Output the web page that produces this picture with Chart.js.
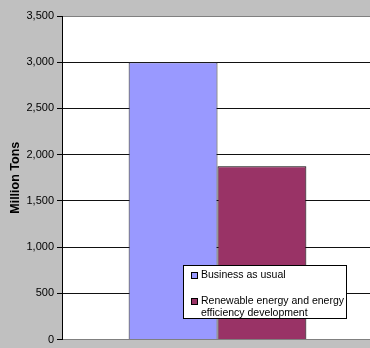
<!DOCTYPE html>
<html lang="en">
<head>
  <meta charset="UTF-8">
  <title>Emissions scenarios</title>
  <script src="https://cdn.jsdelivr.net/npm/chart.js"></script>
  <style>
    html, body {
      margin: 0;
      padding: 0;
      background: #c0c0c0;
      overflow: hidden;
    }
    .wrap {
      position: relative;
      width: 373px;
      height: 348px;
    }
    #legend {
      position: absolute;
      left: 183px;
      top: 265px;
      width: 162px;
      height: 52px;
      background: #fff;
      border: 1px solid #000;
      font: 10.5px Arial, "Liberation Sans", sans-serif;
      color: #000;
      line-height: 11.7px;
    }
    #legend .item {
      position: absolute;
      left: 7px;
      width: 158px;
      display: flex;
      align-items: flex-start;
    }
    #legend .swatch {
      flex: none;
      width: 5px;
      height: 5px;
      border: 1px solid #000;
      margin: 3px 3px 0 0;
    }
  </style>
</head>
<body>

<div class="wrap">
  <canvas id="chart" width="373" height="348"></canvas>
  <div id="legend"></div>
</div>

<script>
  const categories = [''];
  const seriesNames = ['Business as usual', 'Renewable energy and energy efficiency development'];
  const businessAsUsual = [3000];
  const renewables = [1875];
  const yTicks = [0, 500, 1000, 1500, 2000, 2500, 3000, 3500];

  const fontFamily = 'Arial, "Liberation Sans", sans-serif';

  // grey page, white plot area
  const plotBackground = {
    id: 'plotBackground',
    beforeDraw(chart) {
      const { ctx, chartArea: a } = chart;
      ctx.save();
      ctx.fillStyle = '#c0c0c0';
      ctx.fillRect(0, 0, chart.width, chart.height);
      ctx.fillStyle = '#ffffff';
      ctx.fillRect(a.left, a.top, a.right - a.left, a.bottom - a.top);
      ctx.restore();
    }
  };

  const chart = new Chart(document.getElementById('chart'), {
    type: 'bar',
    data: {
      labels: categories,
      datasets: [
        {
          label: seriesNames[0],
          data: businessAsUsual,
          backgroundColor: '#9999ff',
          borderColor: '#222',
          borderWidth: 1
        },
        {
          label: seriesNames[1],
          data: renewables,
          backgroundColor: '#993366',
          borderColor: '#000',
          borderWidth: 1
        }
      ]
    },
    options: {
      responsive: false,
      animation: false,
      layout: { padding: { top: 16, bottom: 6, left: 0, right: 0 } },
      categoryPercentage: 2 / 3.5,
      barPercentage: 1,
      plugins: {
        legend: { display: false },
        tooltip: { enabled: false }
      },
      scales: {
        x: { display: false },
        y: {
          min: yTicks[0],
          max: yTicks[yTicks.length - 1],
          afterFit(scale) { scale.width = 62; },
          afterBuildTicks(scale) { scale.ticks = yTicks.map(v => ({ value: v })); },
          border: { display: true, color: '#000', width: 1 },
          grid: {
            color: ctx => (ctx.tick && (ctx.tick.value === 0 || ctx.tick.value === 3500)) ? '#808080' : '#111',
            lineWidth: 1,
            drawTicks: true,
            tickLength: 5,
            tickColor: '#000'
          },
          ticks: {
            padding: 3,
            color: '#000',
            font: { family: fontFamily, size: 11, lineHeight: 1 },
            callback: v => v.toLocaleString('en-US')
          },
          title: {
            display: true,
            text: 'Million Tons',
            color: '#000',
            font: { family: fontFamily, size: 12.5, weight: 'bold' },
            padding: { top: 8, bottom: 0 }
          }
        }
      }
    },
    plugins: [plotBackground]
  });

  // legend box inside the plot area
  const legend = document.getElementById('legend');
  const itemTops = [3, 29];
  chart.data.datasets.forEach((ds, i) => {
    const item = document.createElement('div');
    item.className = 'item';
    item.style.top = itemTops[i] + 'px';
    const sw = document.createElement('span');
    sw.className = 'swatch';
    sw.style.background = ds.backgroundColor;
    const txt = document.createElement('span');
    txt.textContent = ds.label;
    item.appendChild(sw);
    item.appendChild(txt);
    legend.appendChild(item);
  });
</script>

</body>
</html>
